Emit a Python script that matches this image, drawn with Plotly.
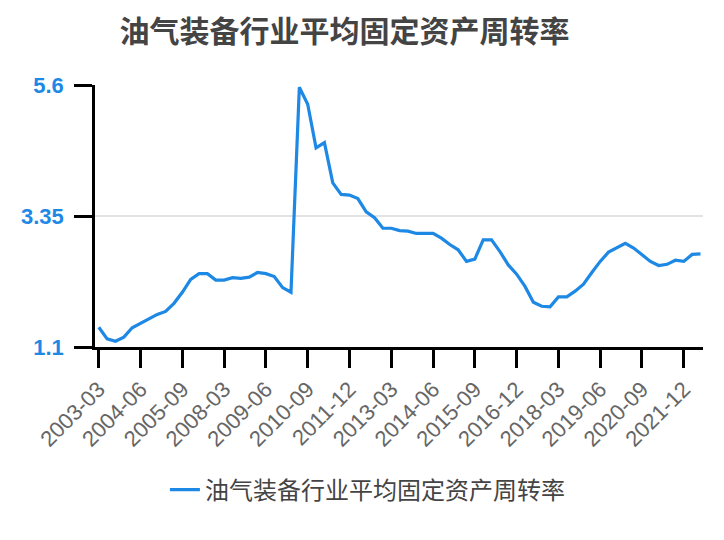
import plotly.graph_objects as go

categories = [
    "2003-03", "2003-06", "2003-09", "2003-12", "2004-03", "2004-06", "2004-09", "2004-12",
    "2005-03", "2005-06", "2005-09", "2005-12", "2006-12", "2007-06", "2007-12",
]
for yr in range(2008, 2023):
    for q in ["03", "06", "09", "12"]:
        if yr == 2022 and q in ("09", "12"):
            continue
        categories.append(f"{yr}-{q}")

values = [
    1.44, 1.24, 1.20, 1.27, 1.43, 1.51, 1.58, 1.66, 1.71, 1.85,
    2.04, 2.26, 2.36, 2.36, 2.25, 2.25, 2.29, 2.28, 2.30, 2.38,
    2.36, 2.31, 2.12, 2.04, 5.56, 5.27, 4.52, 4.61, 3.92, 3.72,
    3.71, 3.65, 3.42, 3.32, 3.14, 3.14, 3.10, 3.09, 3.05, 3.05,
    3.05, 2.97, 2.86, 2.77, 2.57, 2.61, 2.94, 2.94, 2.74, 2.51,
    2.35, 2.14, 1.87, 1.80, 1.79, 1.96, 1.96, 2.06, 2.18, 2.38,
    2.57, 2.73, 2.81, 2.88, 2.80, 2.68, 2.57, 2.50, 2.52, 2.59,
    2.57, 2.69, 2.70,
]

series_name = "油气装备行业平均固定资产周转率"
title_text = "油气装备行业平均固定资产周转率"
y_ticks = [1.1, 3.35, 5.6]
y_tick_text = ["1.1", "3.35", "5.6"]
x_tick_labels = categories[::5]

blue = "#1E88E5"
cjk = "Noto Sans CJK SC, Liberation Sans, Arial, sans-serif"

# the page body has an 8px margin, so the figure is drawn at (8, 8)
W, H = 716, 532

fig = go.Figure()
fig.add_trace(go.Scatter(
    x=categories, y=values, mode="lines", name=series_name,
    line=dict(color=blue, width=3.2),
))

fig.update_layout(
    width=W, height=H,
    paper_bgcolor="white", plot_bgcolor="white",
    margin=dict(l=87, r=21, t=77, b=193),
    title=dict(text=title_text, x=336.5 / W, xanchor="center", y=1 - 23 / H, yanchor="middle",
               xref="container", yref="container",
               font=dict(family=cjk, size=30, color="#444444", weight="bold")),
    showlegend=True,
    legend=dict(orientation="h", x=0.115, xanchor="left", y=-0.546, yanchor="middle",
                font=dict(family=cjk, size=24, color="#444444")),
    xaxis=dict(
        type="category", automargin=False,
        categoryorder="array", categoryarray=categories,
        range=[-0.45, len(categories) - 0.7],
        tickmode="array", tickvals=x_tick_labels, ticktext=x_tick_labels,
        tickangle=-45,
        ticks="outside", ticklen=18, tickwidth=2.5, tickcolor="black",
        showline=True, linecolor="black", linewidth=2.5,
        showgrid=False, zeroline=False,
        tickfont=dict(family="Liberation Sans, Arial, sans-serif", size=22, color="#666666"),
    ),
    yaxis=dict(
        range=[1.1, 5.6], automargin=False,
        tickmode="array", tickvals=y_ticks, ticktext=y_tick_text,
        ticks="outside", ticklen=18, tickwidth=2.5, tickcolor="black",
        ticklabelstandoff=6,
        showline=True, linecolor="black", linewidth=2.5,
        showgrid=True, gridcolor="#e3e3e3", gridwidth=1.5,
        zeroline=False,
        tickfont=dict(family="Liberation Sans, Arial, sans-serif", size=22, color=blue, weight="bold"),
    ),
)

fig.write_html("out.html")
